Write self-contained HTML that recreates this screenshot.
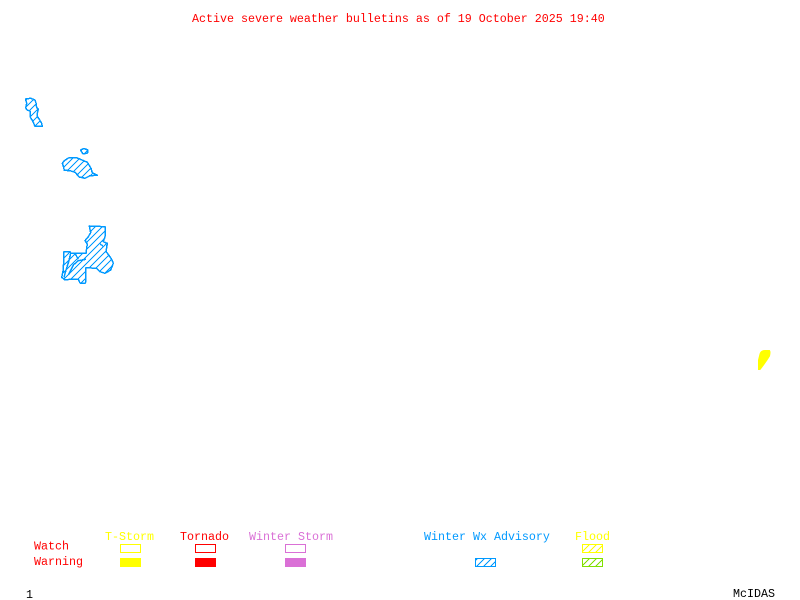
<!DOCTYPE html>
<html><head><meta charset="utf-8"><style>
html,body{margin:0;padding:0;background:#fff}
svg{display:block}
text{font-family:"Liberation Mono",monospace;font-size:11.67px;white-space:pre}
</style></head><body>
<svg width="800" height="600" viewBox="0 0 800 600" xmlns="http://www.w3.org/2000/svg">
<defs>
<pattern id="b" patternUnits="userSpaceOnUse" width="7" height="7"><path d="M-1 8L8 -1M-1 1L1 -1M6 8L8 6" stroke="#0099ff" stroke-width="1.1" fill="none" shape-rendering="crispEdges"/></pattern>
<pattern id="y" patternUnits="userSpaceOnUse" width="7" height="7"><path d="M-1 8L8 -1M-1 1L1 -1M6 8L8 6" stroke="#ffff00" stroke-width="1.1" fill="none" shape-rendering="crispEdges"/></pattern>
<pattern id="g" patternUnits="userSpaceOnUse" width="7" height="7"><path d="M-1 8L8 -1M-1 1L1 -1M6 8L8 6" stroke="#80e000" stroke-width="1.1" fill="none" shape-rendering="crispEdges"/></pattern>
</defs>
<rect width="800" height="600" fill="#fff"/>
<text x="192" y="22" fill="#ff0000">Active severe weather bulletins as of 19 October 2025 19:40</text>

<g fill="url(#b)" stroke="#0099ff" stroke-width="1.5" stroke-linejoin="round" shape-rendering="crispEdges">
<polygon points="25.5,99 30.7,98.3 35,100 36,103 36.7,107.7 38.3,109 37.3,113.3 37.5,117 38.7,118.3 41.7,123.3 42.3,126.3 35,126.3 32.7,121 30,116.7 30,111 27,110 25.7,108 26.7,103.3"/>
<polygon points="62.3,163.3 64,161 68.3,158 76.7,157.7 82,160 87.3,162.3 89,165 91,168.3 92.3,172.7 97.3,175.3 90,175.7 85,178.3 79.3,177 75,172.3 70,170.7 64.3,170.3 63.3,166"/>
<polygon points="80.5,150 84,148.5 88,150 87.5,153 83,154"/>
<polygon points="89.3,226 105,226.7 105,236.7 103.3,241.7 107.3,243.3 106,251.7 108,254 111.7,259.3 113.3,263.3 110.7,270 105,273.3 100,271.7 96.7,268.3 86,267.7 85.5,283 80,283 78.3,279.3 70,279.3 65,280 61.7,277.3 63.3,270 64,251.7 70,251.7 70.7,253.3 86,253.3 87.3,244 85,240.7 88.3,236.7 90.7,232.7"/>
<path fill="none" d="M70.7,253.3L68.7,261.7 66,270 64,277.3M86,259.3L78.3,260.7 73.3,265 68.3,275M75,253.3L78.3,259.3M100,244L103,246"/>
</g>

<path fill="#ffff00" stroke="#ffff00" d="M760,354 Q761,350.5 765,350.5 L769.5,350.5 Q770.5,352 769.5,356 L767,360 L763.5,365 L760,369.5 L758.5,369.5 L758.5,360 Z"/>

<text x="105" y="540" fill="#ffff00">T-Storm</text>
<text x="180" y="540" fill="#ff0000">Tornado</text>
<text x="249" y="540" fill="#da70d6">Winter Storm</text>
<text x="424" y="540" fill="#0099ff">Winter Wx Advisory</text>
<text x="575" y="540" fill="#ffff00">Flood</text>
<text x="34" y="549.5" fill="#ff0000">Watch</text>
<text x="34" y="565" fill="#ff0000">Warning</text>

<g shape-rendering="crispEdges">
<rect x="120.5" y="544.5" width="20" height="8" fill="none" stroke="#ffff00"/>
<rect x="195.5" y="544.5" width="20" height="8" fill="none" stroke="#ff0000"/>
<rect x="285.5" y="544.5" width="20" height="8" fill="none" stroke="#da70d6"/>
<rect x="582.5" y="544.5" width="20" height="8" fill="url(#y)" stroke="#ffff00"/>
<rect x="120" y="558" width="21" height="9" fill="#ffff00"/>
<rect x="195" y="558" width="21" height="9" fill="#ff0000"/>
<rect x="285" y="558" width="21" height="9" fill="#da70d6"/>
<rect x="475.5" y="558.5" width="20" height="8" fill="url(#b)" stroke="#0099ff"/>
<rect x="582.5" y="558.5" width="20" height="8" fill="url(#g)" stroke="#80e000"/>
</g>

<text x="26" y="598" fill="#000">1</text>
<text x="733" y="597" fill="#000">McIDAS</text>
</svg>
</body></html>
